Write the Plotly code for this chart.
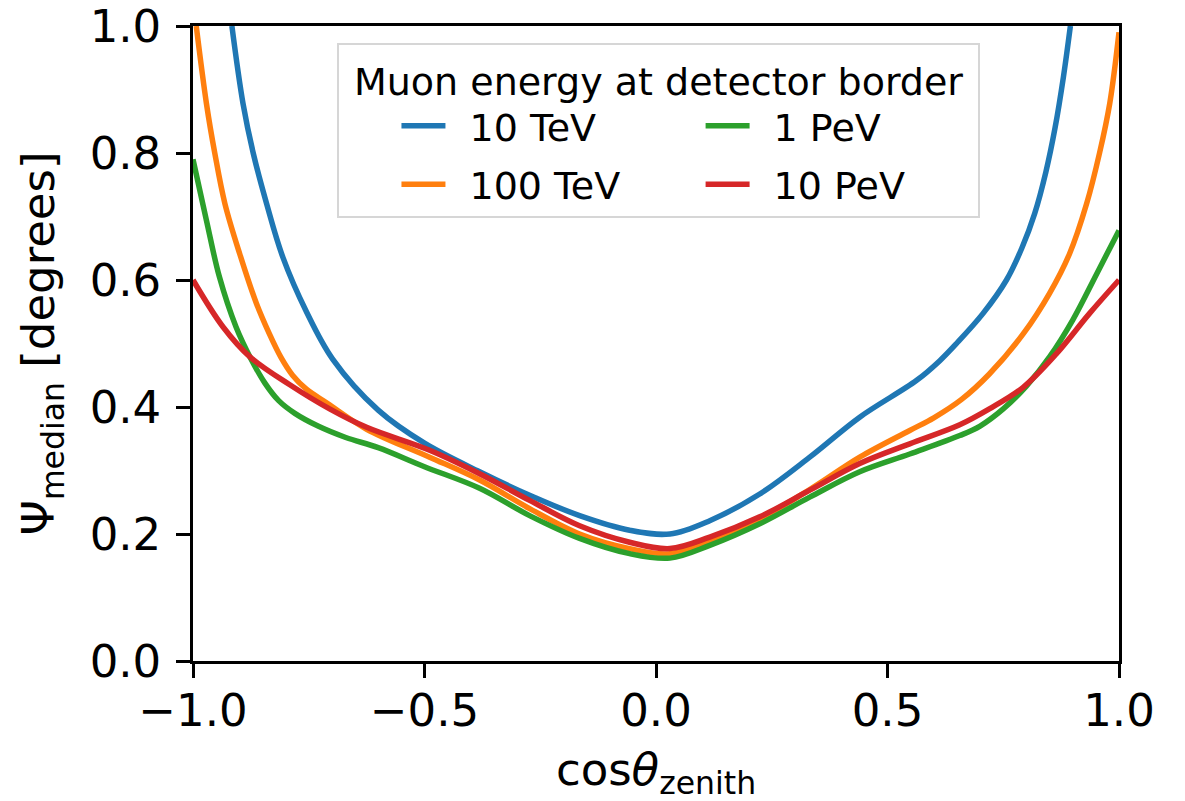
import plotly.graph_objects as go

# ---- data ----
labels = ["10 TeV", "100 TeV", "1 PeV", "10 PeV"]
colors = ["#1f77b4", "#ff7f0e", "#2ca02c", "#d62728"]

x_10tev = [-0.916, -0.892, -0.870, -0.841, -0.806, -0.755, -0.698, -0.6, -0.5, -0.381,
           -0.273, -0.165, -0.057, 0.03, 0.116, 0.224, 0.332, 0.44, 0.563, 0.613, 0.649,
           0.706, 0.757, 0.79, 0.818, 0.842, 0.862, 0.88, 0.895]
y_10tev = [1.0, 0.878, 0.8, 0.72, 0.636, 0.55, 0.475, 0.395, 0.343, 0.298,
           0.261, 0.229, 0.206, 0.2, 0.221, 0.263, 0.321, 0.384, 0.442, 0.473, 0.5,
           0.547, 0.6, 0.65, 0.705, 0.77, 0.84, 0.92, 1.0]

x_100tev = [-0.993, -0.971, -0.953, -0.931, -0.899, -0.863, -0.835, -0.81, -0.785, -0.755,
            -0.71, -0.625, -0.489, -0.381, -0.273, -0.165, -0.057, 0.03, 0.116, 0.224,
            0.332, 0.44, 0.548, 0.6, 0.66, 0.72, 0.793, 0.85, 0.893, 0.93, 0.958, 0.98, 1.0]
y_100tev = [1.0, 0.878, 0.8, 0.72, 0.641, 0.563, 0.515, 0.478, 0.45, 0.428,
            0.406, 0.365, 0.321, 0.285, 0.24, 0.2, 0.177, 0.169, 0.19, 0.224,
            0.27, 0.321, 0.363, 0.383, 0.412, 0.452, 0.515, 0.579, 0.641, 0.72, 0.8, 0.878, 0.99]

x_1pev = [-1.0, -0.971, -0.943, -0.907, -0.875, -0.845, -0.815, -0.78, -0.73, -0.67,
          -0.6, -0.5, -0.381, -0.273, -0.165, -0.057, 0.03, 0.116, 0.224, 0.332, 0.44,
          0.548, 0.656, 0.7, 0.75, 0.8, 0.85, 0.9, 0.952, 1.0]
y_1pev = [0.79, 0.694, 0.605, 0.526, 0.476, 0.438, 0.41, 0.39, 0.37, 0.352,
          0.336, 0.306, 0.272, 0.229, 0.193, 0.169, 0.162, 0.182, 0.216, 0.258, 0.298,
          0.326, 0.355, 0.37, 0.397, 0.433, 0.479, 0.537, 0.61, 0.678]

x_10pev = [-1.0, -0.935, -0.877, -0.791, -0.705, -0.625, -0.489, -0.381, -0.273, -0.165,
           -0.057, 0.03, 0.116, 0.224, 0.332, 0.44, 0.548, 0.656, 0.72, 0.793, 0.865,
           0.936, 1.0]
y_10pev = [0.6, 0.526, 0.479, 0.435, 0.397, 0.368, 0.332, 0.295, 0.253, 0.213,
           0.187, 0.177, 0.195, 0.227, 0.269, 0.311, 0.342, 0.372, 0.397, 0.431, 0.484,
           0.547, 0.6]

xtick_vals = [-1.0, -0.5, 0.0, 0.5, 1.0]
xtick_text = ["\u22121.0", "\u22120.5", "0.0", "0.5", "1.0"]
ytick_vals = [0.0, 0.2, 0.4, 0.6, 0.8, 1.0]

series = [(x_10tev, y_10tev), (x_100tev, y_100tev), (x_1pev, y_1pev), (x_10pev, y_10pev)]
legend_of = ["legend", "legend", "legend2", "legend2"]

FONT = "DejaVu Sans"
fig = go.Figure()
for i, (xs, ys) in enumerate(series):
    fig.add_trace(go.Scatter(
        x=xs, y=ys, mode="lines", name="\u2002" + labels[i],
        legend=legend_of[i], legendgroup="g%d" % i,
        line=dict(color=colors[i], width=5.5, shape="spline", smoothing=1.0),
    ))

axis_common = dict(
    showgrid=False, zeroline=False, showline=True, linecolor="black", linewidth=2.5,
    mirror=True, ticks="outside", ticklen=14, tickwidth=2.5, tickcolor="black",
    tickfont=dict(family=FONT, size=45, color="black"), automargin=False,
    ticklabeloverflow="allow",
)

legend_font = dict(family=FONT, size=38, color="black")
fig.update_layout(
    width=1185, height=801,
    margin=dict(l=193, r=66, t=26, b=140),
    paper_bgcolor="white", plot_bgcolor="white",
    font=dict(family=FONT, color="black"),
    xaxis=dict(range=[-1, 1], tickvals=xtick_vals, ticktext=xtick_text,
               title=dict(text="cos<i>\u03b8</i><sub>zenith</sub>",
                          font=dict(family=FONT, size=45), standoff=24),
               ticklabelstandoff=-6, **axis_common),
    yaxis=dict(range=[0, 1], tickvals=ytick_vals, tickformat=".1f",
               title=dict(text="\u03a8<sub>median</sub> [degrees]",
                          font=dict(family=FONT, size=45), standoff=21),
               ticklabelstandoff=6, **axis_common),
    legend=dict(
        orientation="v", x=0.156, y=0.973, xanchor="left", yanchor="top",
        itemwidth=44, indentation=57, tracegroupgap=6,
        title=dict(text="\u2004Muon energy at detector border\u2004", side="top",
                   font=dict(family=FONT, size=38)),
        font=legend_font,
        bgcolor="rgba(255,255,255,0.8)", bordercolor="#d6d6d6", borderwidth=2,
    ),
    legend2=dict(
        orientation="v", x=0.546, y=0.973, xanchor="left", yanchor="top",
        itemwidth=44, tracegroupgap=6,
        title=dict(text="\u00a0", side="top", font=dict(family=FONT, size=38)),
        font=legend_font,
        bgcolor="rgba(0,0,0,0)", bordercolor="rgba(0,0,0,0)", borderwidth=2,
    ),
    showlegend=True,
)

fig.write_html("out.html", config={"displayModeBar": False},
               post_script="document.body.style.margin='0';")
